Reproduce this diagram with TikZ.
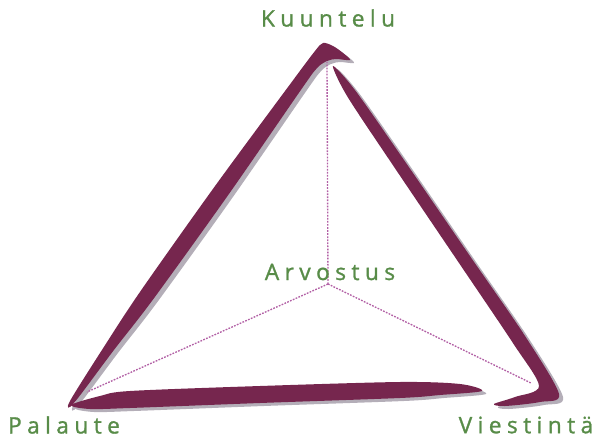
\documentclass[tikz,border=0pt]{standalone}
\usepackage{fontspec}
\usetikzlibrary{positioning, calc}
\newfontfamily\tagfont[LetterSpace=24, FakeBold=1.2]{Open Sans}
\definecolor{maroon}{RGB}{118,38,78}
\definecolor{shadowgrey}{RGB}{180,174,184}
\definecolor{leafgreen}{RGB}{88,140,72}
\definecolor{spokepurple}{RGB}{178,96,165}
\tikzset{
  brush/.style={fill=maroon},
  brushshadow/.style={fill=shadowgrey, shift={(4,3)}},
  spoke/.style={spokepurple, line width=1pt, dash pattern=on 1.3pt off 1pt},
  tag/.style={text=leafgreen, font=\tagfont\fontsize{17}{20}\selectfont, inner sep=0pt}
}

\begin{document}
\begin{tikzpicture}[x=0.75pt, y=-0.75pt]
    \useasboundingbox (0,0) rectangle (604,439);
    %vertici
    \coordinate (top) at (327,62);
    \coordinate (mid) at (328,284);
    \coordinate (left) at (87,392);
    \coordinate (right) at (531,383);
    %ombre dei tratti
    \fill[brushshadow] plot[smooth cycle, tension=0.5] coordinates {(70,401) (105.4,344.6) (140.9,290.6) (215.5,185.4) (292.1,81.5) (315,51) (323,43) (333,46) (343,53) (350,60) (336,59) (327,61) (317,68) (301.9,88.5) (228.5,194.6) (153.1,299.4) (113.6,350.4) (74,403)};
    \fill[brushshadow] plot[smooth cycle, tension=0.5] coordinates {(333,66) (355.5,90.8) (404.4,160.6) (470.2,256.4) (525.1,336.1) (559,394) (540,402) (505,406) (494,404) (515,397) (539,386) (513.5,343.9) (459.4,263.6) (394.4,167.4) (347.3,96.4)};
    \fill[brushshadow] plot[smooth cycle, tension=0.5] coordinates {(71,405) (100,396) (130,391) (260,386) (400,382) (460,384) (482,391) (440,395) (400,398) (260,403) (130,408) (90,409)};
    %tratti
    \fill[brush] plot[smooth cycle, tension=0.5] coordinates {(70,401) (105.4,344.6) (140.9,290.6) (215.5,185.4) (292.1,81.5) (315,51) (323,43) (333,46) (343,53) (350,60) (336,59) (327,61) (317,68) (301.9,88.5) (228.5,194.6) (153.1,299.4) (113.6,350.4) (74,403)};
    \fill[brush] plot[smooth cycle, tension=0.5] coordinates {(333,66) (355.5,90.8) (404.4,160.6) (470.2,256.4) (525.1,336.1) (559,394) (540,402) (505,406) (494,404) (515,397) (539,386) (513.5,343.9) (459.4,263.6) (394.4,167.4) (347.3,96.4)};
    \fill[brush] plot[smooth cycle, tension=0.5] coordinates {(71,405) (100,396) (130,391) (260,386) (400,382) (460,384) (482,391) (440,395) (400,398) (260,403) (130,408) (90,409)};
    %raggi tratteggiati
    \draw[spoke] (mid) -- (top);
    \draw[spoke] (mid) -- (left);
    \draw[spoke] (mid) -- (right);
    %etichette
    \node[tag] (kuuntelu) at (328,18) {Kuuntelu};
    \node[tag] (arvostus) at (330,272) {Arvostus};
    \node[tag] (palaute) at (64,425) {Palaute};
    \node[tag] (viestinta) at (526,425) {Viestintä};
\end{tikzpicture}
\end{document}
